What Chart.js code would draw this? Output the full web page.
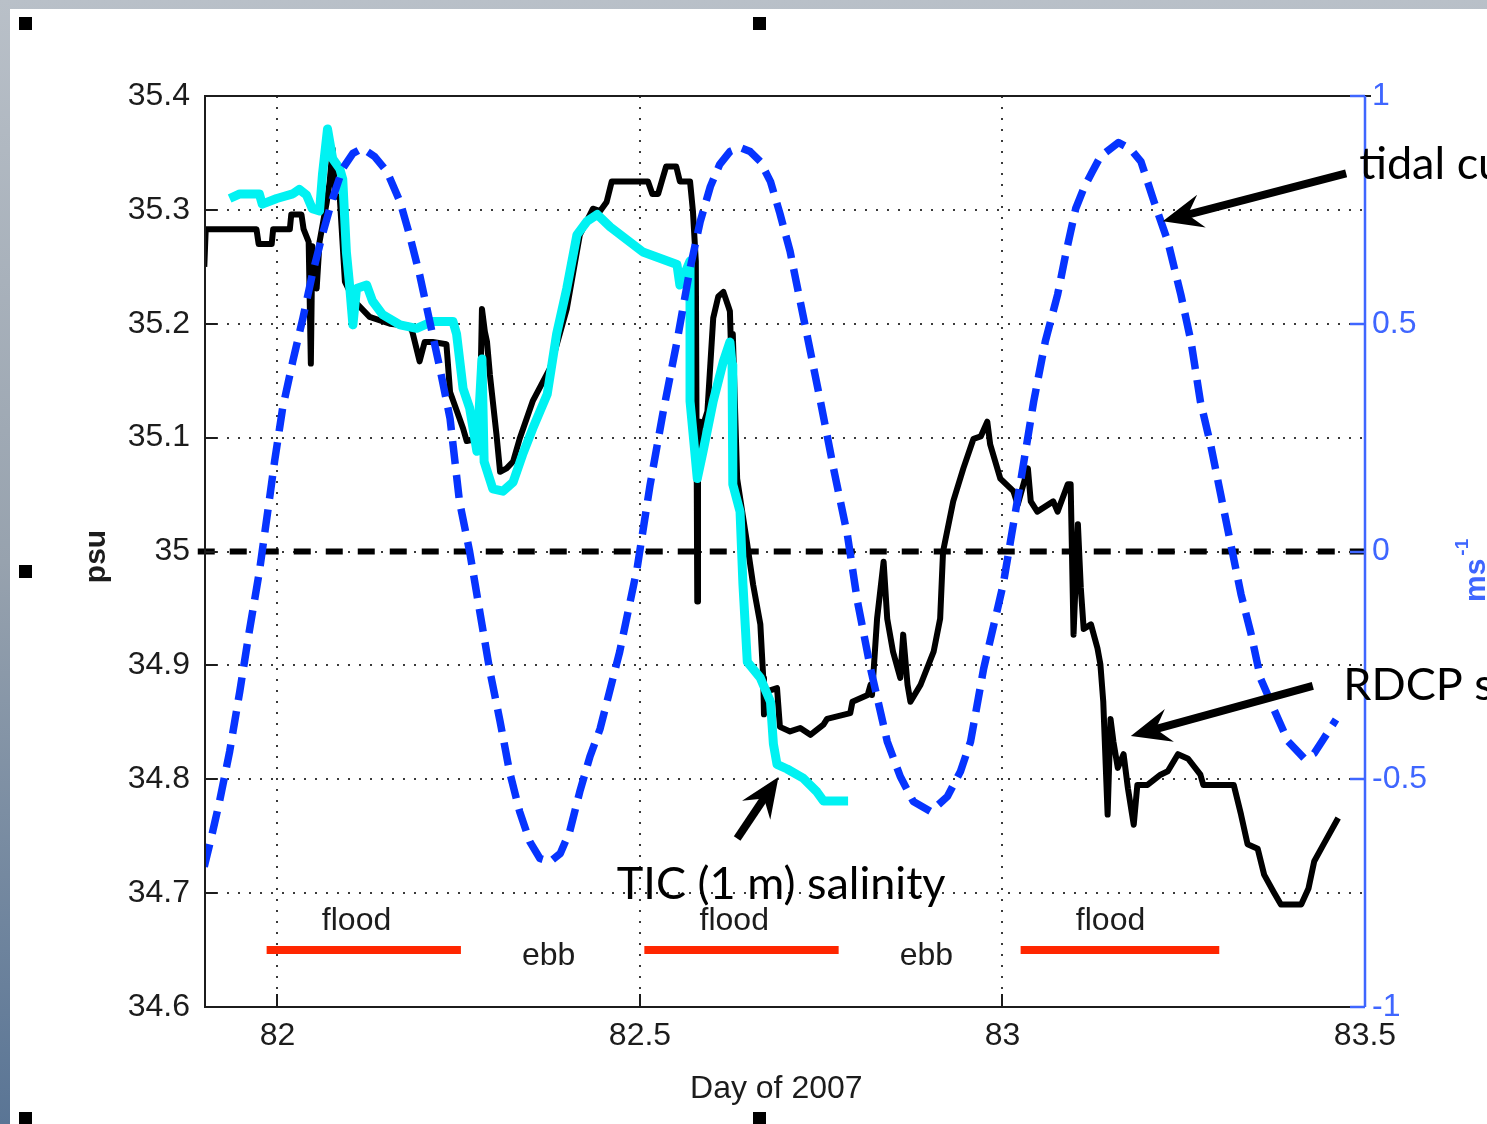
<!DOCTYPE html>
<html>
<head>
<meta charset="utf-8">
<title>RDCP and TIC salinity with tidal current, day 82-83.5 of 2007</title>
<script src="https://cdn.jsdelivr.net/npm/chart.js@4.4.1/dist/chart.umd.min.js"></script>
<style>
  html, body { margin: 0; padding: 0; background: #a3acb6; overflow: hidden; }
  canvas { display: block; }
</style>
</head>
<body>
<canvas id="chart" width="1487" height="1124"></canvas>
<script>
// ---- data ----
const dayTicks = [82, 82.5, 83, 83.5];
const psuTicks = [34.6, 34.7, 34.8, 34.9, 35.0, 35.1, 35.2, 35.3, 35.4];
const speedTicks = [-1, -0.5, 0, 0.5, 1];

// tidal current (m/s, right axis)
const tidalDay = [81.899, 81.909, 81.920, 81.934, 81.948, 81.961, 81.975, 81.989, 81.996, 82.007,
  82.021, 82.035, 82.048, 82.062, 82.076, 82.090, 82.104, 82.117, 82.134, 82.151,
  82.169, 82.182, 82.196, 82.210, 82.224, 82.238, 82.251, 82.265, 82.279, 82.293,
  82.307, 82.320, 82.334, 82.348, 82.362, 82.376, 82.390, 82.403, 82.417, 82.431,
  82.445, 82.472, 82.496, 82.514, 82.532, 82.551, 82.569, 82.583, 82.597, 82.610,
  82.624, 82.638, 82.652, 82.666, 82.680, 82.693, 82.707, 82.721, 82.735, 82.749,
  82.767, 82.786, 82.800, 82.818, 82.841, 82.859, 82.877, 82.901, 82.924, 82.942,
  82.956, 82.974, 83.001, 83.011, 83.025, 83.043, 83.059, 83.076, 83.088, 83.101,
  83.113, 83.124, 83.135, 83.160, 83.177, 83.191, 83.209, 83.228, 83.246, 83.260,
  83.273, 83.287, 83.301, 83.315, 83.329, 83.343, 83.356, 83.374, 83.394, 83.416,
  83.430, 83.443, 83.460];
const tidalSpeed = [-0.692, -0.626, -0.549, -0.439, -0.307, -0.176, -0.044, 0.116, 0.198, 0.314,
  0.417, 0.512, 0.608, 0.696, 0.775, 0.841, 0.874, 0.885, 0.867, 0.834,
  0.768, 0.696, 0.608, 0.505, 0.402, 0.292, 0.110, 0.000, -0.132, -0.263,
  -0.373, -0.483, -0.571, -0.637, -0.674, -0.681, -0.663, -0.615, -0.527, -0.450,
  -0.389, -0.220, -0.037, 0.147, 0.307, 0.461, 0.621, 0.724, 0.801, 0.850,
  0.878, 0.887, 0.878, 0.856, 0.812, 0.742, 0.659, 0.549, 0.439, 0.329,
  0.182, 0.037, -0.110, -0.257, -0.417, -0.494, -0.549, -0.571, -0.538, -0.483,
  -0.417, -0.257, -0.072, 0.022, 0.154, 0.329, 0.461, 0.564, 0.659, 0.753,
  0.801, 0.834, 0.867, 0.898, 0.883, 0.856, 0.768, 0.681, 0.564, 0.461,
  0.329, 0.235, 0.125, 0.015, -0.094, -0.182, -0.279, -0.345, -0.417, -0.454,
  -0.443, -0.411, -0.369];

// RDCP salinity (psu, left axis)
const rdcpDay = [81.899, 81.901, 81.971, 81.974, 81.992, 81.994, 82.017, 82.019, 82.033, 82.036,
  82.043, 82.046, 82.048, 82.054, 82.058, 82.068, 82.072, 82.076, 82.080, 82.086,
  82.093, 82.106, 82.127, 82.155, 82.182, 82.186, 82.196, 82.203, 82.214, 82.233,
  82.238, 82.256, 82.261, 82.275, 82.279, 82.282, 82.286, 82.289, 82.293, 82.302,
  82.307, 82.316, 82.325, 82.334, 82.352, 82.376, 82.399, 82.417, 82.435, 82.445,
  82.454, 82.461, 82.511, 82.517, 82.525, 82.530, 82.536, 82.550, 82.555, 82.569,
  82.573, 82.577, 82.579, 82.580, 82.583, 82.587, 82.593, 82.601, 82.608, 82.615,
  82.622, 82.624, 82.627, 82.628, 82.634, 82.648, 82.656, 82.666, 82.670, 82.671,
  82.674, 82.689, 82.693, 82.707, 82.721, 82.735, 82.753, 82.758, 82.790, 82.793,
  82.814, 82.818, 82.820, 82.827, 82.836, 82.841, 82.849, 82.859, 82.863, 82.869,
  82.873, 82.887, 82.905, 82.914, 82.918, 82.932, 82.946, 82.960, 82.970, 82.979,
  82.983, 82.997, 83.015, 83.021, 83.035, 83.039, 83.048, 83.070, 83.076, 83.090,
  83.094, 83.098, 83.104, 83.108, 83.112, 83.122, 83.131, 83.135, 83.139, 83.145,
  83.149, 83.153, 83.159, 83.167, 83.173, 83.181, 83.186, 83.200, 83.218, 83.228,
  83.242, 83.256, 83.273, 83.277, 83.319, 83.329, 83.338, 83.352, 83.361, 83.374,
  83.384, 83.412, 83.422, 83.430, 83.443, 83.463];
const rdcpSalinity = [35.250, 35.283, 35.283, 35.270, 35.270, 35.283, 35.283, 35.296, 35.296, 35.283,
  35.272, 35.165, 35.268, 35.231, 35.272, 35.307, 35.325, 35.354, 35.313, 35.310,
  35.237, 35.220, 35.206, 35.200, 35.198, 35.193, 35.167, 35.184, 35.184, 35.182,
  35.140, 35.108, 35.097, 35.099, 35.114, 35.213, 35.193, 35.184, 35.155, 35.103,
  35.070, 35.073, 35.079, 35.099, 35.132, 35.161, 35.213, 35.278, 35.301, 35.299,
  35.307, 35.325, 35.325, 35.314, 35.314, 35.325, 35.338, 35.338, 35.325, 35.325,
  35.299, 35.255, 34.956, 35.061, 35.114, 35.111, 35.123, 35.205, 35.224, 35.228,
  35.215, 35.211, 35.147, 35.191, 35.064, 35.006, 34.971, 34.936, 34.889, 34.857,
  34.877, 34.880, 34.846, 34.842, 34.845, 34.839, 34.848, 34.853, 34.858, 34.868,
  34.874, 34.883, 34.874, 34.941, 34.991, 34.941, 34.912, 34.889, 34.927, 34.883,
  34.868, 34.883, 34.912, 34.941, 35.000, 35.044, 35.073, 35.099, 35.101, 35.114,
  35.094, 35.064, 35.053, 35.041, 35.073, 35.044, 35.035, 35.044, 35.035, 35.059,
  35.059, 34.927, 35.024, 34.968, 34.932, 34.936, 34.915, 34.901, 34.868, 34.769,
  34.853, 34.833, 34.810, 34.822, 34.792, 34.760, 34.795, 34.795, 34.804, 34.807,
  34.822, 34.818, 34.804, 34.795, 34.795, 34.769, 34.743, 34.739, 34.716, 34.701,
  34.690, 34.690, 34.704, 34.728, 34.743, 34.766];

// TIC (1 m) salinity (psu, left axis)
const ticDay = [81.934, 81.948, 81.975, 81.979, 81.999, 82.021, 82.030, 82.040, 82.048, 82.058,
  82.062, 82.069, 82.076, 82.086, 82.090, 82.095, 82.099, 82.104, 82.109, 82.123,
  82.131, 82.145, 82.169, 82.192, 82.214, 82.242, 82.247, 82.256, 82.265, 82.275,
  82.282, 82.285, 82.297, 82.311, 82.325, 82.338, 82.352, 82.372, 82.385, 82.399,
  82.413, 82.427, 82.441, 82.459, 82.504, 82.551, 82.555, 82.569, 82.569, 82.579,
  82.587, 82.601, 82.615, 82.624, 82.627, 82.628, 82.638, 82.642, 82.648, 82.666,
  82.680, 82.684, 82.689, 82.703, 82.725, 82.744, 82.753, 82.787];
const ticSalinity = [35.310, 35.314, 35.314, 35.305, 35.310, 35.314, 35.318, 35.313, 35.301, 35.299,
  35.331, 35.371, 35.345, 35.336, 35.327, 35.263, 35.237, 35.199, 35.231, 35.234,
  35.220, 35.208, 35.199, 35.196, 35.202, 35.202, 35.191, 35.143, 35.126, 35.088,
  35.169, 35.079, 35.055, 35.053, 35.061, 35.085, 35.108, 35.138, 35.191, 35.231,
  35.278, 35.290, 35.296, 35.285, 35.263, 35.252, 35.234, 35.255, 35.132, 35.064,
  35.088, 35.132, 35.167, 35.184, 35.164, 35.059, 35.035, 34.971, 34.903, 34.889,
  34.868, 34.831, 34.813, 34.809, 34.801, 34.789, 34.781, 34.781];

// reference salinity line and flood periods
const refDays = [81.89, 83.5];
const refSalinity = 35;
const floodStart = [81.985, 82.506, 83.025];
const floodEnd = [82.253, 82.774, 83.299];
const floodLevel = 34.65;

// ---- annotations ----
const BLUE = '#0634ff';
const AXIS_BLUE = '#3f66ff';
const INK = '#1c1c1c';
const matlabFont = '"Liberation Sans", Arial, sans-serif';

const tideLabels = [
  { text: 'flood', x: 82.109, y: 34.6755 },
  { text: 'flood', x: 82.630, y: 34.6755 },
  { text: 'flood', x: 83.149, y: 34.6755 },
  { text: 'ebb', x: 82.374, y: 34.6448 },
  { text: 'ebb', x: 82.895, y: 34.6448 }
];
const notes = [
  { text: 'tidal cu', x: 83.492, y: 35.327 },
  { text: 'RDCP s', x: 83.470, y: 34.870 },
  { text: 'TIC (1 m) salinity', x: 82.468, y: 34.6945 }
];
const arrows = [
  { from: [83.474, 35.332], to: [83.221, 35.290] },
  { from: [83.428, 34.882], to: [83.177, 34.838] },
  { from: [82.634, 34.748], to: [82.691, 34.802] }
];

const toPoints = (xs, ys) => xs.map((x, i) => ({ x, y: ys[i] }));

function drawArrow(ctx, x1, y1, x2, y2) {
  const dx = x2 - x1, dy = y2 - y1;
  const len = Math.hypot(dx, dy);
  const ux = dx / len, uy = dy / len;
  const head = 36, half = 17;
  const bx = x2 - ux * head, by = y2 - uy * head;
  ctx.lineWidth = 8;
  ctx.lineCap = 'butt';
  ctx.beginPath();
  ctx.moveTo(x1, y1);
  ctx.lineTo(x2 - ux * 20, y2 - uy * 20);
  ctx.stroke();
  ctx.beginPath();
  ctx.moveTo(x2, y2);
  ctx.lineTo(bx - uy * half - ux * 4, by + ux * half - uy * 4);
  ctx.lineTo(x2 - ux * head * 0.72, y2 - uy * head * 0.72);
  ctx.lineTo(bx + uy * half - ux * 4, by - ux * half - uy * 4);
  ctx.closePath();
  ctx.fill();
}

const decor = {
  id: 'decor',
  beforeDraw(chart) {
    const { ctx, width, height } = chart;
    ctx.save();
    const g = ctx.createLinearGradient(0, 0, 0, height);
    g.addColorStop(0, '#b9c0c8');
    g.addColorStop(0.5, '#97a2ae');
    g.addColorStop(1, '#5a7595');
    ctx.fillStyle = g;
    ctx.fillRect(0, 0, width, height);
    ctx.fillStyle = '#ffffff';
    ctx.fillRect(10, 9, width - 10, height - 9);
    ctx.restore();
  },
  beforeDatasetsDraw(chart) {
    const { ctx, chartArea: a, scales } = chart;
    ctx.save();
    ctx.strokeStyle = '#3a3a3a';
    ctx.lineWidth = 2;
    ctx.setLineDash([2, 9]);
    psuTicks.slice(1, -1).forEach(v => {
      const y = Math.round(scales.y.getPixelForValue(v));
      ctx.beginPath(); ctx.moveTo(a.left, y); ctx.lineTo(a.right, y); ctx.stroke();
    });
    dayTicks.filter(v => v < 83.5).forEach(v => {
      const x = Math.round(scales.x.getPixelForValue(v));
      ctx.beginPath(); ctx.moveTo(x, a.top); ctx.lineTo(x, a.bottom); ctx.stroke();
    });
    ctx.restore();
  },
  afterDatasetsDraw(chart) {
    const { ctx, chartArea: a, scales } = chart;
    ctx.save();
    ctx.setLineDash([]);
    // axes box
    ctx.strokeStyle = INK;
    ctx.lineWidth = 2;
    ctx.beginPath();
    ctx.moveTo(a.right + 6, a.top); ctx.lineTo(a.left, a.top);
    ctx.lineTo(a.left, a.bottom); ctx.lineTo(a.right, a.bottom);
    ctx.stroke();
    // inward ticks, left and bottom
    psuTicks.forEach(v => {
      const y = Math.round(scales.y.getPixelForValue(v));
      ctx.beginPath(); ctx.moveTo(a.left, y); ctx.lineTo(a.left + 12, y); ctx.stroke();
    });
    dayTicks.forEach(v => {
      const x = Math.round(scales.x.getPixelForValue(v));
      ctx.beginPath(); ctx.moveTo(x, a.bottom); ctx.lineTo(x, a.bottom - 13); ctx.stroke();
    });
    // right (current) axis in blue
    ctx.strokeStyle = AXIS_BLUE;
    ctx.lineWidth = 2.5;
    ctx.beginPath(); ctx.moveTo(a.right, a.top); ctx.lineTo(a.right, a.bottom); ctx.stroke();
    speedTicks.forEach(v => {
      const y = Math.round(scales.y2.getPixelForValue(v));
      ctx.beginPath(); ctx.moveTo(a.right, y); ctx.lineTo(a.right - 15, y); ctx.stroke();
    });
    ctx.restore();
  },
  afterDraw(chart) {
    const { ctx, chartArea: a, scales } = chart;
    const px = v => scales.x.getPixelForValue(v);
    const py = v => scales.y.getPixelForValue(v);
    ctx.save();

    // flood / ebb labels
    ctx.fillStyle = INK;
    ctx.font = '32px ' + matlabFont;
    ctx.textAlign = 'center';
    ctx.textBaseline = 'middle';
    tideLabels.forEach(l => ctx.fillText(l.text, px(l.x), py(l.y)));

    // axis titles
    ctx.textBaseline = 'alphabetic';
    ctx.fillText('Day of 2007', px(82.688), a.bottom + 91);

    ctx.save();
    ctx.translate(105, (a.top + a.bottom) / 2 + 5);
    ctx.rotate(-Math.PI / 2);
    ctx.font = 'bold 30px ' + matlabFont;
    ctx.fillText('psu', 0, 0);
    ctx.restore();

    ctx.save();
    ctx.translate(1485, 602);
    ctx.rotate(-Math.PI / 2);
    ctx.fillStyle = AXIS_BLUE;
    ctx.textAlign = 'left';
    ctx.font = 'bold 30px ' + matlabFont;
    ctx.fillText('ms', 0, 0);
    const w = ctx.measureText('ms').width;
    ctx.font = 'bold 19px ' + matlabFont;
    ctx.fillText('-1', w + 3, -17);
    ctx.restore();

    // callout text and arrows
    ctx.fillStyle = '#000';
    ctx.strokeStyle = '#000';
    ctx.textAlign = 'left';
    ctx.textBaseline = 'alphabetic';
    ctx.font = '45px Lato, "Open Sans", sans-serif';
    notes.forEach(n => ctx.fillText(n.text, px(n.x), py(n.y)));
    arrows.forEach(r => drawArrow(ctx, px(r.from[0]), py(r.from[1]), px(r.to[0]), py(r.to[1])));

    // selection handles of the pasted figure
    ctx.fillStyle = '#000';
    [[19, 17], [753, 17], [19, 565], [19, 1112], [753, 1112]].forEach(([hx, hy]) => ctx.fillRect(hx, hy, 13, 13));
    ctx.restore();
  }
};

const lineStyle = { pointRadius: 0, tension: 0, fill: false, borderJoinStyle: 'round' };

const datasets = [
  Object.assign({
    label: 'tidal current', data: toPoints(tidalDay, tidalSpeed), yAxisID: 'y2',
    borderColor: BLUE, borderWidth: 7.5, borderDash: [23, 11], borderCapStyle: 'butt', order: 0
  }, lineStyle),
  Object.assign({
    label: 'TIC (1 m) salinity', data: toPoints(ticDay, ticSalinity), yAxisID: 'y',
    borderColor: '#00f2f2', borderWidth: 9, order: 1
  }, lineStyle),
  Object.assign({
    label: 'RDCP salinity', data: toPoints(rdcpDay, rdcpSalinity), yAxisID: 'y',
    borderColor: '#000000', borderWidth: 6, order: 2
  }, lineStyle),
  Object.assign({
    label: '35 psu', data: refDays.map(d => ({ x: d, y: refSalinity })), yAxisID: 'y',
    borderColor: '#000000', borderWidth: 6, borderDash: [17, 15], borderCapStyle: 'butt',
    clip: { left: 8, right: 0, top: 0, bottom: 0 }, order: 3
  }, lineStyle)
];
floodStart.forEach((s, i) => {
  datasets.push(Object.assign({
    label: 'flood ' + (i + 1), data: [{ x: s, y: floodLevel }, { x: floodEnd[i], y: floodLevel }],
    yAxisID: 'y', borderColor: '#ff2600', borderWidth: 8, borderCapStyle: 'butt', order: 4
  }, lineStyle));
});

const tickFont = { family: matlabFont, size: 32 };

new Chart(document.getElementById('chart'), {
  type: 'line',
  data: { datasets },
  options: {
    responsive: false,
    animation: false,
    events: [],
    layout: { padding: { top: 96, left: 0, right: 0, bottom: 0 } },
    plugins: { legend: { display: false }, tooltip: { enabled: false } },
    scales: {
      x: {
        type: 'linear', position: 'bottom', min: 81.9, max: 83.5,
        afterBuildTicks: s => { s.ticks = dayTicks.map(v => ({ value: v })); },
        afterFit: s => { s.height = 117; },
        grid: { display: false, drawTicks: false },
        border: { display: false },
        ticks: { autoSkip: false, maxRotation: 0, padding: 10, font: tickFont, color: INK, callback: v => String(v) }
      },
      y: {
        type: 'linear', position: 'left', min: 34.6, max: 35.4,
        afterBuildTicks: s => { s.ticks = psuTicks.map(v => ({ value: v })); },
        afterFit: s => { s.width = 205; },
        grid: { display: false, drawTicks: false },
        border: { display: false },
        ticks: { autoSkip: false, padding: 15, font: tickFont, color: INK, callback: v => String(Math.round(v * 10) / 10) }
      },
      y2: {
        type: 'linear', position: 'right', min: -1, max: 1,
        afterBuildTicks: s => { s.ticks = speedTicks.map(v => ({ value: v })); },
        afterFit: s => { s.width = 122; },
        grid: { display: false, drawTicks: false },
        border: { display: false },
        ticks: { autoSkip: false, padding: 7, font: tickFont, color: AXIS_BLUE, callback: v => String(v) }
      }
    }
  },
  plugins: [decor]
});
</script>
</body>
</html>
